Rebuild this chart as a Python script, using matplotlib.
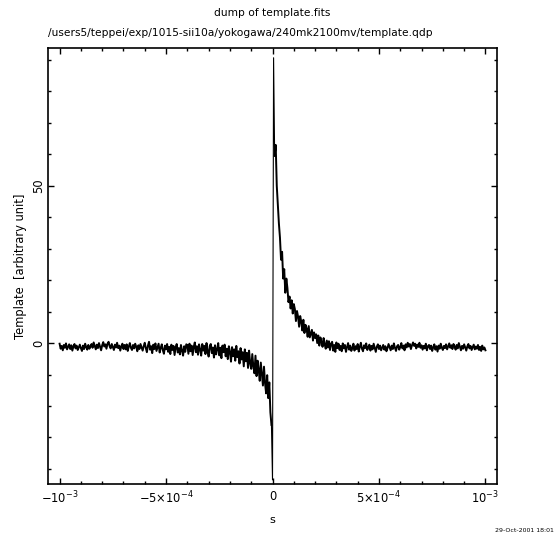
import numpy as np
import matplotlib
matplotlib.use("Agg")
import matplotlib.pyplot as plt
from matplotlib.ticker import MultipleLocator, FixedLocator, FixedFormatter

t0 = -1.0e-3
dt = 5.0e-6

baseline_pre = [
    -0.2, -1.8, -0.9, -2.3, -0.6, -1.5, -0.1, -2.0, -1.2, -0.4,
    -1.9, -0.7, -2.4, -1.0, -0.3, -1.7, -0.8, -2.2, -1.4, -0.5,
    -1.6, -2.5, -0.8, -1.9, -0.2, -1.3, -2.1, -0.6, -1.8, -1.1,
    -0.3, -1.5, 0.2, -0.9, -2.0, -0.5, -1.6, 0.0, -1.2, -2.3,
    -0.7, 0.3, -1.1, -0.4, -1.8, -0.2, 0.4, -1.0, -1.7, -0.3,
    -1.2, -2.2, -0.5, -1.4, 0.1, -1.6, -0.8, -2.4, -1.0, -0.2,
    -1.9, -0.6, -2.0, -0.4, -2.5, -1.1, 0.0, -1.5, -2.2, -0.6,
    -1.7, -0.2, -1.2, -2.6, -0.7, -1.9, -0.3, -1.4, -2.4, -1.0,
    0.1, -1.6, -2.9, -0.8, 0.4, -2.1, -1.0, -3.2, -0.5, -1.9,
    -0.1, -2.5, -1.3, -0.2, -3.0, -1.5, -0.4, -2.3, -3.4, -0.8,
    -2.0, -0.3, -2.8, -1.2, -3.5, -0.5, -2.2, -0.9, -3.8, -1.4,
    -0.3, -3.0, -1.6, -3.6, -0.6, -2.4, -4.0, -1.0, -2.8, -0.4,
]
dip = [
    -0.6, -3.4, -0.2, -2.6, -0.8, -3.8, -1.2, 0.2, -2.9, -1.0,
    -3.7, -0.4, -2.1, -4.0, -0.3, -2.4, -0.9, -3.5, 0.0, -2.7,
    -4.3, -1.0, -0.3, -3.2, -1.4, -4.6, -0.7, -3.6, -2.0, 0.0,
    -3.9, -1.5, -4.8, -0.8, -2.9, -0.5, -4.2, -1.8, -5.1, -1.0,
    -2.8, -5.9, -1.3, -4.2, -2.0, -5.6, -0.9, -4.5, -2.6, -6.5,
    -1.6, -5.2, -2.9, -7.4, -2.0, -5.8, -3.1, -7.9, -2.4, -6.4,
    -8.2, -3.5, -7.4, -9.6, -4.0, -10.5, -5.6, -8.4, -12.0, -6.2,
    -10.0, -13.5, -7.5, -12.8, -16.0, -10.2, -17.5, -12.5, -22.0, -26.0,
]
spike = [-43.5, 90.7]
decay = [
    59.5, 63.0, 50.0, 44.0, 38.0, 33.5, 26.5, 29.0, 20.5, 23.5,
    16.0, 20.5, 17.5, 13.0, 14.8, 11.0, 13.6, 9.4, 12.4, 10.8,
    7.0, 10.2, 8.4, 5.2, 8.6, 6.8, 4.0, 7.4, 3.2, 5.8,
    4.6, 2.0, 5.4, 1.8, 3.0, 4.2, 0.8, 3.4, 1.6, 2.8,
    0.0, 2.4, -0.8, 1.8, 0.4, -1.2, 1.6, -0.4, -1.8, 0.8,
    -1.4, 0.6, -2.2, -0.2, 0.4, -2.4, -0.6, -2.8, 0.2, -1.6,
]
baseline_post = [
    -0.2, -2.2, -0.9, -2.6, -0.1, -1.7, -0.6, -2.8, -1.3, 0.0,
    -2.1, -0.8, -2.5, -1.6, -0.2, -2.4, -1.0, -1.9, -0.3, -2.7,
    -1.2, 0.1, -1.8, -2.6, -0.7, -1.6, -0.1, -2.2, -1.4, -0.5,
    -2.4, -0.9, -2.0, -0.2, -1.5, -2.8, -1.1, -0.4, -1.9, -0.8,
    -2.3, -1.4, -0.6, -2.1, -1.0, -2.6, -1.6, -0.3, -1.3, -2.3,
    -0.8, -1.9, -0.1, -1.5, -2.5, -1.0, -0.6, -2.1, -1.3, 0.0,
    -1.7, -0.8, -2.3, -0.4, -1.4, 0.1, -1.1, -0.3, -1.9, -0.7,
    0.2, -0.9, -0.2, -1.7, -0.5, -1.2, 0.1, -1.5, -0.7, -2.1,
    -0.9, -1.7, -0.2, -2.3, -1.0, -0.6, -1.9, -0.8, -2.5, -1.3,
    -0.4, -2.1, -1.0, -2.7, -0.8, -1.8, -0.2, -1.4, -2.2, -0.9,
    -1.6, -0.4, -2.0, -1.1, -0.1, -1.5, -0.7, -1.9, -0.3, -1.1,
    -2.1, -0.6, -1.7, 0.0, -1.2, -2.3, -0.9, -1.8, -0.4, -1.4,
    -2.4, -1.0, -0.3, -1.7, -0.9, -2.2, -1.3, -0.5, -2.0, -1.1,
    -1.8, -0.6, -2.2, -1.2, -2.5, -0.8, -2.0, -1.4, -2.3,
]

xtick_vals = [-1e-3, -5e-4, 0, 5e-4, 1e-3]
xtick_labels = [r"$-10^{-3}$", r"$-5{\times}10^{-4}$", "0", r"$5{\times}10^{-4}$", r"$10^{-3}$"]

template = np.array(baseline_pre + dip + spike + decay + baseline_post)
t = t0 + dt * np.arange(len(template))
imin = len(baseline_pre) + len(dip)   # index of the minimum just before the spike

plt.rcParams['font.family'] = 'DejaVu Sans'
plt.rcParams['mathtext.default'] = 'regular'

fig = plt.figure(figsize=(5.54, 5.37), dpi=100)
ax = fig.add_axes([0.0872, 0.0981, 0.8094, 0.8131])
# noisy parts drawn a bit heavier, the fast jump itself stays a hairline
ax.plot(t[:imin], template[:imin], color='black', lw=1.4)
ax.plot(t[imin - 1:imin + 3], template[imin - 1:imin + 3], color='black', lw=0.8)
ax.plot(t[imin + 2:], template[imin + 2:], color='black', lw=1.4)

ax.set_xlim(-1.053e-3, 1.053e-3)
ax.set_ylim(-44.9, 93.9)

ax.xaxis.set_major_locator(FixedLocator(xtick_vals))
ax.xaxis.set_major_formatter(FixedFormatter(xtick_labels))
ax.xaxis.set_minor_locator(MultipleLocator(1e-4))
ax.yaxis.set_major_locator(MultipleLocator(50))
ax.yaxis.set_minor_locator(MultipleLocator(10))
ax.tick_params(which='both', direction='in', top=True, right=True, width=1.0, labelsize=8.3)
ax.tick_params(which='major', length=4.5)
ax.tick_params(which='minor', length=2.5)
ax.tick_params(axis='x', pad=4)
ax.tick_params(axis='y', pad=2)
for lbl in ax.get_yticklabels():
    lbl.set_rotation(90)
    lbl.set_va('center')
for s in ax.spines.values():
    s.set_linewidth(1.2)

ax.set_xlabel('s', fontsize=8.2, labelpad=6)
ax.set_ylabel('Template  [arbitrary unit]', fontsize=8.3, labelpad=4)

fig.text(0.492, 0.975, 'dump of template.fits', ha='center', va='center', fontsize=7.7)
fig.text(0.0872, 0.938, '/users5/teppei/exp/1015-sii10a/yokogawa/240mk2100mv/template.qdp',
         ha='left', va='center', fontsize=7.7)
fig.text(0.999, 0.013, '29-Oct-2001 18:01', ha='right', va='center', fontsize=4.5)

plt.savefig('out.png', dpi=100)
plt.close()
